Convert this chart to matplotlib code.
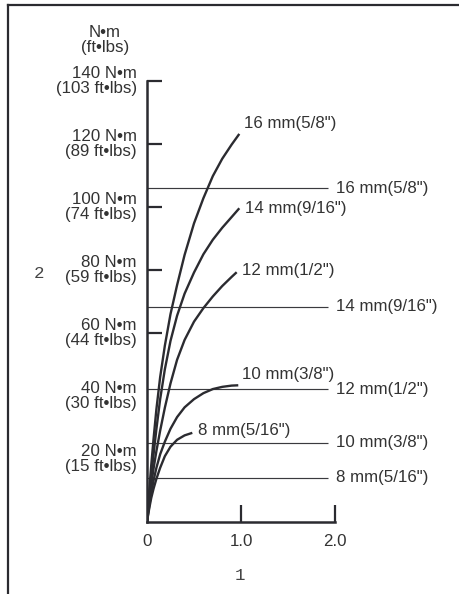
import matplotlib
matplotlib.use("Agg")
import matplotlib.pyplot as plt
from matplotlib.lines import Line2D

# torque axis labels (value, text)
torque_ticks = [20, 40, 60, 80, 100, 120, 140]
torque_labels = ["20 N•m\n(15 ft•lbs)", "40 N•m\n(30 ft•lbs)", "60 N•m\n(44 ft•lbs)",
                 "80 N•m\n(59 ft•lbs)", "100 N•m\n(74 ft•lbs)", "120 N•m\n(89 ft•lbs)",
                 "140 N•m\n(103 ft•lbs)"]
torque_marks = [60, 80, 100, 120, 140]
x_ticks = [0, 1.0, 2.0]
x_labels = ["0", "1.0", "2.0"]
x_marks = [1.0, 2.0]

# curves
curve_names = ['16 mm(5/8")', '14 mm(9/16")', '12 mm(1/2")', '10 mm(3/8")', '8 mm(5/16")']
x16 = [0, 0.01, 0.025, 0.045, 0.07, 0.1, 0.14, 0.19, 0.25, 0.32, 0.4, 0.5, 0.6, 0.7, 0.8, 0.9, 0.982]
y16 = [0, 4.5, 10.5, 18, 26.5, 35.8, 46.0, 56.0, 66.0, 75.2, 84.8, 94.8, 102.8, 109.8, 115.3, 119.8, 123.2]
x14 = [0, 0.01, 0.025, 0.045, 0.07, 0.1, 0.14, 0.19, 0.25, 0.32, 0.4, 0.5, 0.6, 0.7, 0.8, 0.9, 0.982]
y14 = [0, 3.5, 8.5, 14.5, 21.5, 29.5, 39.0, 48.5, 57.5, 65.5, 72.5, 79.2, 85.0, 89.6, 93.4, 96.8, 99.6]
x12 = [0, 0.01, 0.025, 0.045, 0.07, 0.1, 0.14, 0.19, 0.25, 0.32, 0.4, 0.5, 0.6, 0.7, 0.8, 0.9, 0.954]
y12 = [0, 3.0, 7.0, 11.8, 17.0, 22.5, 29.0, 36.3, 44.0, 51.5, 57.8, 63.6, 67.9, 71.6, 74.9, 77.8, 79.3]
x10 = [0, 0.01, 0.025, 0.045, 0.07, 0.1, 0.14, 0.19, 0.25, 0.32, 0.4, 0.5, 0.6, 0.7, 0.8, 0.9, 0.971]
y10 = [0, 2.2, 5.3, 9.2, 13.2, 17.2, 21.5, 25.5, 29.6, 33.3, 36.4, 39.0, 40.9, 42.2, 42.9, 43.3, 43.4]
x8 = [0, 0.01, 0.025, 0.045, 0.07, 0.1, 0.14, 0.19, 0.25, 0.32, 0.4, 0.482]
y8 = [0, 1.9, 4.5, 7.6, 10.6, 13.7, 17.2, 20.9, 23.9, 26.1, 27.5, 28.3]
curves_x = [x16, x14, x12, x10, x8]
curves_y = [y16, y14, y12, y10, y8]

# reference torque lines
spec_torque = [106.0, 68.3, 42.2, 25.1, 14.0]
spec_labels = ['16 mm(5/8")', '14 mm(9/16")', '12 mm(1/2")', '10 mm(3/8")', '8 mm(5/16")']
LINE_END = 1.93

# label offsets in pixels (dx, dy up) from curve ends
label_offsets = [(5, 10), (6, 0), (5, 2), (4, 11), (6, 2)]

INK = "#2b2b30"
TXT = "#333333"
FONT = "Liberation Sans"
FS = 12.2
PT = 0.72  # points per pixel at 100 dpi

fig = plt.figure(figsize=(4.6, 5.94), dpi=100)
ax = fig.add_axes([147 / 460, 72 / 594, 188 / 460, 441 / 594])
ax.set_xlim(0, 2.0)
ax.set_ylim(0, 140)

for s in ["top", "right"]:
    ax.spines[s].set_visible(False)
for s in ["left", "bottom"]:
    ax.spines[s].set_linewidth(1.8)
    ax.spines[s].set_color(INK)
    ax.spines[s].set_capstyle("projecting")

ax.set_yticks(torque_marks)
ax.set_xticks(x_marks)
ax.tick_params(axis="y", direction="in", length=10.8, width=1.6, color=INK, labelleft=False)
ax.tick_params(axis="x", direction="in", length=12.2, width=1.6, color=INK, labelbottom=False)

for v, lab in zip(torque_ticks, torque_labels):
    ax.annotate(lab, xy=(0, v), xycoords=("axes fraction", "data"),
                xytext=(-10 * PT, 0), textcoords="offset points",
                ha="right", va="center", ma="right", linespacing=0.95,
                fontsize=FS, family=FONT, color=TXT, annotation_clip=False)

for v, lab in zip(x_ticks, x_labels):
    ax.annotate(lab, xy=(v, 0), xycoords=("data", "axes fraction"),
                xytext=(0, -12 * PT), textcoords="offset points",
                ha="center", va="top", fontsize=FS, family=FONT, color=TXT,
                annotation_clip=False)

# torque reference lines
for t, lab in zip(spec_torque, spec_labels):
    ax.plot([0, LINE_END], [t, t], color="#3a3a3e", lw=0.85, solid_capstyle="butt")
    ax.annotate(lab, xy=(LINE_END, t), xytext=(8 * PT, 0), textcoords="offset points",
                ha="left", va="center", fontsize=FS, family=FONT, color=TXT,
                annotation_clip=False)

# curves
for xs, ys, name, off in zip(curves_x, curves_y, curve_names, label_offsets):
    ax.plot(xs, ys, color=INK, lw=1.7, solid_capstyle="butt", solid_joinstyle="round")
    ax.annotate(name, xy=(xs[-1], ys[-1]), xytext=(off[0] * PT, off[1] * PT),
                textcoords="offset points", ha="left", va="center",
                fontsize=FS, family=FONT, color=TXT, annotation_clip=False)

# unit header
fig.text(105 / 460, 1 - 40 / 594, "N•m\n(ft•lbs)", ha="center", va="center",
         linespacing=0.95, fontsize=FS, family=FONT, color=TXT)

# axis placeholders
fig.text(39 / 460, 1 - 274 / 594, "2", ha="center", va="center",
         fontsize=12.5, family="Liberation Mono", color="#444444")
fig.text(240 / 460, 1 - 576 / 594, "1", ha="center", va="center",
         fontsize=12.5, family="Liberation Mono", color="#444444")

# frame
fig.add_artist(Line2D([8 / 460, 8 / 460], [0, 1 - 5 / 594], color=INK, lw=1.6))
fig.add_artist(Line2D([8 / 460, 1], [1 - 5 / 594, 1 - 5 / 594], color=INK, lw=1.6))

fig.savefig("out.png", dpi=100)
